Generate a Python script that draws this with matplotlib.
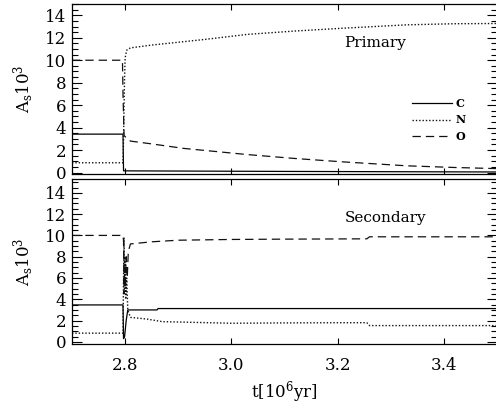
import matplotlib
matplotlib.use("Agg")
import matplotlib.pyplot as plt
from matplotlib.ticker import MultipleLocator

plt.rcParams['font.family'] = ['DejaVu Serif']
plt.rcParams['mathtext.fontset'] = 'dejavuserif'
plt.rcParams['lines.scale_dashes'] = False

# ---- Primary (top panel) ----
t_C_p = [2.70, 2.796, 2.797, 3.10, 3.50]
C_p = [3.42, 3.42, 0.15, 0.10, 0.05]

t_N_p = [2.70, 2.796, 2.797, 2.798, 2.799, 2.800, 2.803, 2.81, 2.85, 2.95, 3.03, 3.12, 3.21, 3.33, 3.42, 3.50]
N_p = [0.87, 0.87, 3.0, 6.0, 8.5, 10.2, 10.9, 11.1, 11.35, 11.85, 12.3, 12.6, 12.85, 13.15, 13.25, 13.27]

t_O_p = [2.70, 2.795, 2.796, 2.798, 2.802, 2.81, 2.85, 2.91, 3.03, 3.12, 3.21, 3.33, 3.42, 3.50]
O_p = [10.0, 10.0, 7.0, 3.3, 3.1, 2.8, 2.55, 2.15, 1.6, 1.25, 0.95, 0.6, 0.45, 0.35]

# ---- Secondary (bottom panel) ----
t_C_s = [2.70, 2.796, 2.797, 2.799, 2.802, 2.805, 2.86, 2.862, 3.50]
C_s = [3.47, 3.47, 0.3, 0.5, 2.0, 3.0, 3.0, 3.13, 3.13]

t_N_s = [2.70, 2.796, 2.797, 2.798, 2.799, 2.800, 2.801, 2.803, 2.805, 2.81, 2.84, 2.87, 3.00, 3.10, 3.20, 3.255, 3.26, 3.50]
N_s = [0.82, 0.82, 6.0, 9.8, 5.0, 8.0, 4.0, 6.0, 3.0, 2.3, 2.15, 1.9, 1.75, 1.78, 1.80, 1.80, 1.53, 1.53]

t_O_s = [2.70, 2.796, 2.797, 2.798, 2.799, 2.800, 2.802, 2.804, 2.806, 2.81, 2.85, 2.90, 3.00, 3.10, 3.255, 3.26, 3.50]
O_s = [10.0, 10.0, 9.5, 4.5, 7.0, 5.0, 8.0, 6.0, 8.5, 9.2, 9.4, 9.55, 9.62, 9.65, 9.68, 9.87, 9.87]

labels = ['C', 'N', 'O']
panel_titles = ['Primary', 'Secondary']
xticks = [2.8, 3.0, 3.2, 3.4]
yticks = [0, 2, 4, 6, 8, 10, 12, 14]

W, H = 496, 407
fig = plt.figure(figsize=(W / 100, H / 100), dpi=100)

def frac(x0, y0, x1, y1):
    return [x0 / W, 1 - y1 / H, (x1 - x0) / W, (y1 - y0) / H]

ax1 = fig.add_axes(frac(72, 3.5, 497, 174))
ax2 = fig.add_axes(frac(72, 179, 497, 344))

solid = dict(color='black', lw=0.9, linestyle='-')
dotted = dict(color='#111111', lw=1.0, linestyle=(0, (1.0, 1.4)))
dashed = dict(color='#111111', lw=0.9, linestyle=(0, (6, 3.6)))

ax1.plot(t_C_p, C_p, label=labels[0], **solid)
ax1.plot(t_N_p, N_p, label=labels[1], **dotted)
ax1.plot(t_O_p, O_p, label=labels[2], **dashed)

ax2.plot(t_C_s, C_s, **solid)
ax2.plot(t_N_s, N_s, **dotted)
ax2.plot(t_O_s, O_s, **dashed)

ax1.set_ylim(-0.13, 15.05)
ax2.set_ylim(-0.2, 15.3)

for ax in (ax1, ax2):
    ax.set_xlim(2.7, 3.5)
    ax.set_xticks(xticks)
    ax.set_yticks(yticks)
    ax.yaxis.set_minor_locator(MultipleLocator(0.5))
    ax.tick_params(axis='both', which='both', direction='in', top=True, right=True,
                   labelsize=12, width=0.8)
    ax.tick_params(axis='y', which='major', length=7, pad=4)
    ax.tick_params(axis='y', which='minor', length=4)
    ax.tick_params(axis='x', which='major', length=4, pad=9)
    for s in ax.spines.values():
        s.set_linewidth(0.9)
    ax.set_ylabel(r'A$_{\rm s}$10$^{3}$', fontsize=12)
    ax.yaxis.set_label_coords(-0.085, 0.5)

ax1.tick_params(axis='x', labelbottom=False)

ax1.text(3.27, 11.5, panel_titles[0], fontsize=11, ha='center', va='center')
ax2.text(3.29, 11.6, panel_titles[1], fontsize=11, ha='center', va='center')

leg = ax1.legend(loc='center left', bbox_to_anchor=(0.80, 0.317), frameon=False,
                 fontsize=8, handlelength=3.6, handletextpad=0.3, labelspacing=0.5,
                 borderpad=0, borderaxespad=0)
for txt in leg.get_texts():
    txt.set_fontweight('bold')

ax2.set_xlabel(r't[10$^{6}$yr]', fontsize=12, labelpad=4)

fig.savefig('out.png', dpi=100)
